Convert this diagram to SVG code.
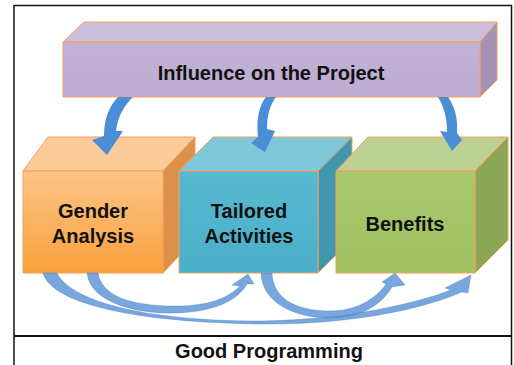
<svg xmlns="http://www.w3.org/2000/svg" width="514" height="365" viewBox="0 0 514 365">
  <defs>
    <style>
      .face { stroke: #F4A05A; stroke-width: 1; stroke-linejoin: round; }
      .lbl { font-family: "Liberation Sans", Arial, sans-serif; font-weight: bold; fill: #111; text-anchor: middle; }
      .arrTop { fill: #4A8FD6; }
      .arrBot { fill: #5B93D6; fill-opacity: 0.82; stroke: #3F7FC8; stroke-width: 0.6; stroke-opacity: 0.6; }
    </style>
    <linearGradient id="gOrange" x1="0" y1="0" x2="0" y2="1">
      <stop offset="0" stop-color="#FDC587"/>
      <stop offset="1" stop-color="#F9A03C"/>
    </linearGradient>
    <linearGradient id="gBlue" x1="0" y1="0" x2="0" y2="1">
      <stop offset="0" stop-color="#58B8D0"/>
      <stop offset="1" stop-color="#4BAFCA"/>
    </linearGradient>
    <linearGradient id="gGreen" x1="0" y1="0" x2="0" y2="1">
      <stop offset="0" stop-color="#A9C76D"/>
      <stop offset="1" stop-color="#A1C062"/>
    </linearGradient>
    <linearGradient id="gPurple" x1="0" y1="0" x2="0" y2="1">
      <stop offset="0" stop-color="#C2B3D6"/>
      <stop offset="1" stop-color="#BCABD0"/>
    </linearGradient>
  </defs>

  <rect x="0" y="0" width="514" height="365" fill="#FFFFFF"/>

  <g id="frame" fill="none" stroke="#111" stroke-width="1.5">
    <path d="M14,365 V5.5 H511.5 V365"/>
    <line x1="14" y1="336" x2="511.5" y2="336" stroke-width="2"/>
  </g>

  <g id="node-influence">
    <polygon class="face" points="63,42 84,22 497,22 480,42" fill="#CBBFDC"/>
    <polygon class="face" points="480,42 497,22 497,80 480,97" fill="#A394B6"/>
    <rect class="face" x="63" y="42" width="417" height="55" fill="url(#gPurple)"/>
    <text class="lbl" x="271" y="80" font-size="20">Influence on the Project</text>
  </g>

  <g id="node-gender">
    <polygon class="face" points="23,171 48,137 195,137 163,171" fill="#FCCB9A"/>
    <polygon class="face" points="163,171 195,137 195,239 163,273" fill="#DC914A"/>
    <rect class="face" x="23" y="171" width="140" height="102" fill="url(#gOrange)"/>
    <text class="lbl" x="93" y="218" font-size="20">Gender</text>
    <text class="lbl" x="93" y="243" font-size="20">Analysis</text>
  </g>

  <g id="node-tailored">
    <polygon class="face" points="179,171 213,137 352,137 318,171" fill="#7EC7D9"/>
    <polygon class="face" points="318,171 352,137 352,239 318,273" fill="#4097AE"/>
    <rect class="face" x="179" y="171" width="139" height="102" fill="url(#gBlue)"/>
    <text class="lbl" x="249" y="218" font-size="20">Tailored</text>
    <text class="lbl" x="249" y="243" font-size="20">Activities</text>
  </g>

  <g id="node-benefits">
    <polygon class="face" points="336,171 368,137 508,137 475,171" fill="#BDD194"/>
    <polygon class="face" points="475,171 508,137 508,240 475,273" fill="#8CA658"/>
    <rect class="face" x="336" y="171" width="139" height="102" fill="url(#gGreen)"/>
    <text class="lbl" x="405" y="231" font-size="20">Benefits</text>
  </g>

  <g id="connectors">
    <path class="arrTop" d="M118,97 L133,97 C125,105 118,115 116,131 L123,131 L107,155 L92,140 L104,136 C104,118 110,105 118,97 Z"/>
    <path class="arrTop" d="M266,97 L276,97 C270,105 267,115 267,129 L275,131 L265,152 L251,143 L258,137 C256,120 259,106 266,97 Z"/>
    <path class="arrTop" d="M438,97 L448,97 C455,107 458,119 457,133 L462,140 L452,151 L440,131 L447,132 C447,118 444,107 438,97 Z"/>
    <path class="arrBot" d="M43,273 C50,300 120,322 260,324 C360,325 430,306 462,292 L468,293 L471,275 L445,288 L451,290 C420,302 350,320 260,321 C140,321 70,300 57,273 Z"/>
    <path class="arrBot" d="M87,273 C90,302 135,314 175,313 C215,312 238,300 247,284 L254,284 L248,274 L232,285 L240,286 C228,298 210,306 175,306 C130,306 102,296 98,273 Z"/>
    <path class="arrBot" d="M261,273 C262,303 295,318 330,318 C362,318 382,304 392,287 L405,285 L395,273 L382,282 L386,284 C375,300 355,311 330,311 C295,311 273,298 272,273 Z"/>
  </g>

  <text id="footer" class="lbl" x="269" y="358" font-size="20">Good Programming</text>
</svg>
